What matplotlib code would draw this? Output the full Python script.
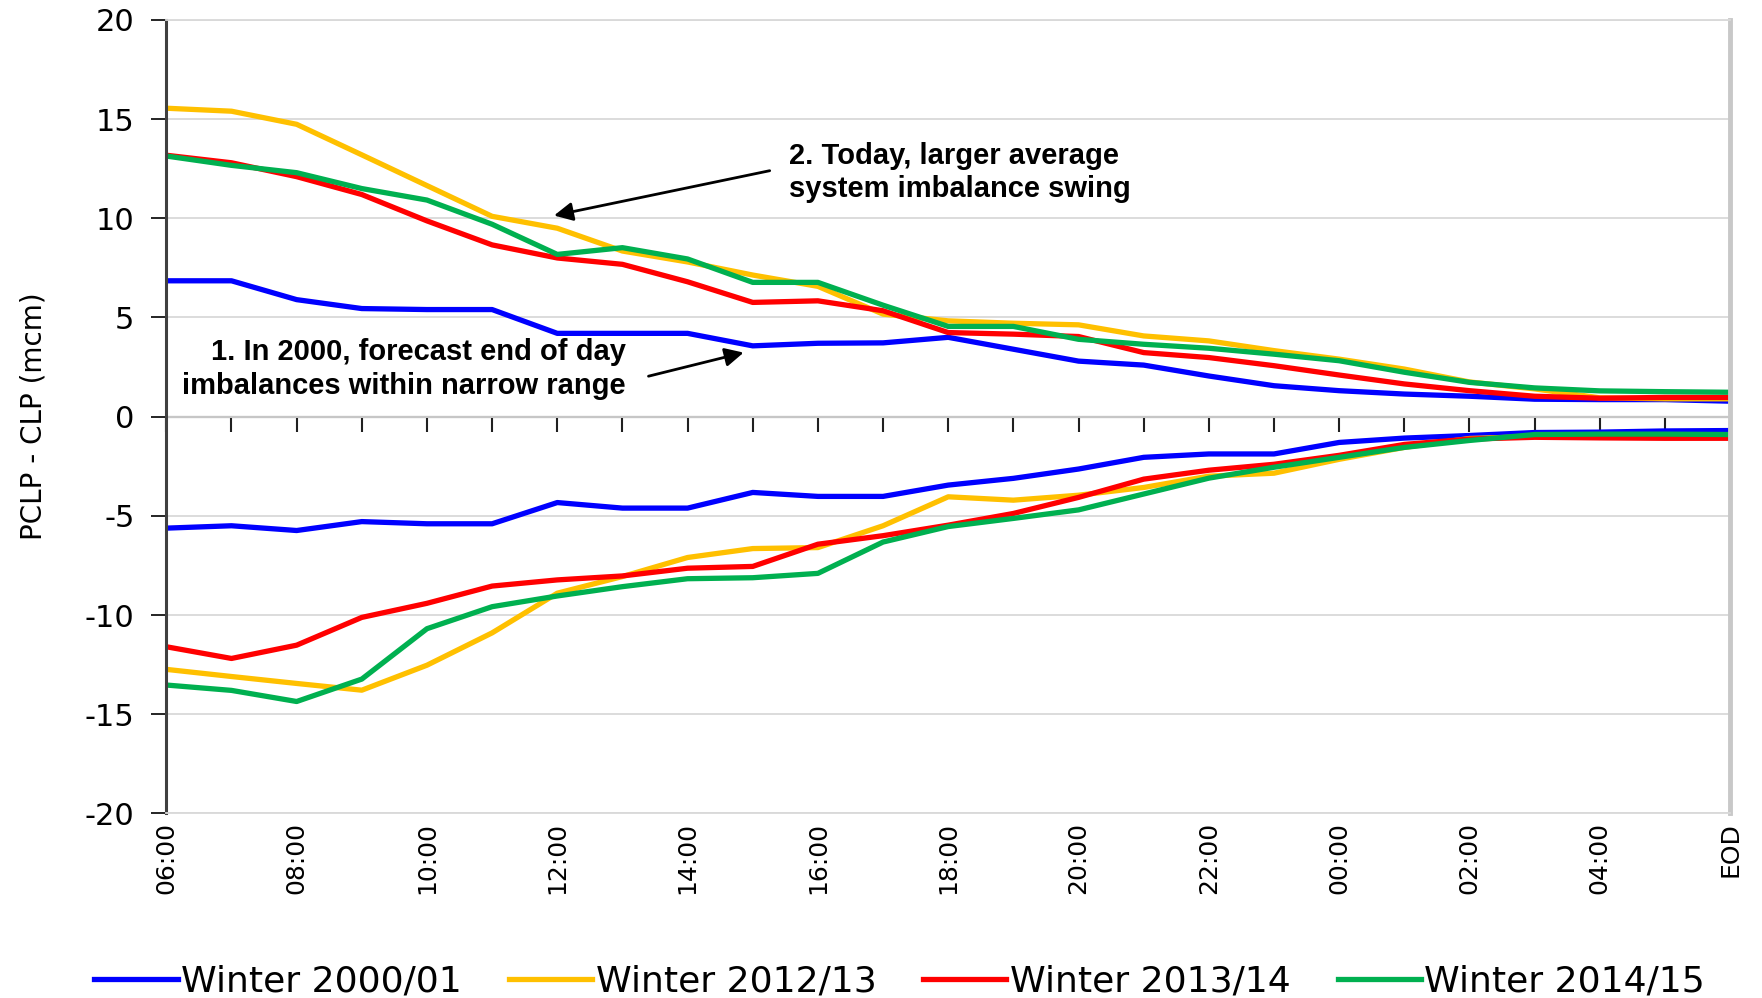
import matplotlib
matplotlib.use("Agg")
import matplotlib.pyplot as plt

plt.rcParams["axes.unicode_minus"] = False

# hourly points from 06:00 to end of day
hours = ["06:00", "07:00", "08:00", "09:00", "10:00", "11:00", "12:00", "13:00",
         "14:00", "15:00", "16:00", "17:00", "18:00", "19:00", "20:00", "21:00",
         "22:00", "23:00", "00:00", "01:00", "02:00", "03:00", "04:00", "05:00", "EOD"]

series_names = ["Winter 2000/01", "Winter 2012/13", "Winter 2013/14", "Winter 2014/15"]
series_colors = ["#0000FF", "#FFC000", "#FF0000", "#00B050"]

# upper band (positive imbalance)
blue_up = [6.85, 6.85, 5.9, 5.45, 5.4, 5.4, 4.2, 4.2, 4.2, 3.57, 3.7, 3.72, 4.0,
           3.4, 2.8, 2.6, 2.05, 1.56, 1.31, 1.14, 1.03, 0.88, 0.86, 0.86, 0.78]
yellow_up = [15.55, 15.4, 14.74, 13.2, 11.65, 10.1, 9.5, 8.35, 7.8, 7.14, 6.57, 5.17,
             4.83, 4.71, 4.63, 4.07, 3.82, 3.33, 2.9, 2.4, 1.75, 1.4, 0.95, 0.9, 0.9]
red_up = [13.18, 12.8, 12.1, 11.2, 9.87, 8.66, 8.0, 7.68, 6.8, 5.76, 5.84, 5.34, 4.24,
          4.16, 4.04, 3.23, 2.98, 2.57, 2.1, 1.65, 1.31, 1.03, 0.93, 0.97, 0.97]
green_up = [13.14, 12.67, 12.3, 11.5, 10.92, 9.7, 8.18, 8.52, 7.95, 6.77, 6.77, 5.62,
            4.55, 4.55, 3.9, 3.65, 3.45, 3.15, 2.82, 2.24, 1.73, 1.45, 1.3, 1.26, 1.23]

# lower band (negative imbalance)
blue_lo = [-5.62, -5.5, -5.74, -5.29, -5.4, -5.4, -4.33, -4.61, -4.61, -3.82, -4.02,
           -4.02, -3.45, -3.11, -2.64, -2.05, -1.88, -1.88, -1.3, -1.08, -0.95, -0.8,
           -0.78, -0.72, -0.7]
yellow_lo = [-12.74, -13.1, -13.45, -13.79, -12.53, -10.9, -8.9, -8.06, -7.1, -6.65,
             -6.6, -5.5, -4.04, -4.21, -3.96, -3.57, -3.0, -2.85, -2.15, -1.55, -1.1,
             -1.0, -0.98, -0.96, -0.95]
red_lo = [-11.6, -12.19, -11.52, -10.12, -9.41, -8.54, -8.23, -8.03, -7.64, -7.55,
          -6.43, -6.0, -5.47, -4.88, -4.07, -3.15, -2.7, -2.4, -1.95, -1.4, -1.13,
          -1.04, -1.07, -1.09, -1.09]
green_lo = [-13.53, -13.8, -14.36, -13.23, -10.69, -9.58, -9.04, -8.57, -8.17, -8.12,
            -7.9, -6.32, -5.54, -5.13, -4.7, -3.9, -3.1, -2.55, -2.05, -1.55, -1.2,
            -0.9, -0.88, -0.88, -0.9]

upper = [blue_up, yellow_up, red_up, green_up]
lower = [blue_lo, yellow_lo, red_lo, green_lo]

fig = plt.figure(figsize=(17.62, 9.98), dpi=100)
ax = fig.add_axes([0.0944, 0.185, 0.8875, 0.795])

x = list(range(len(hours)))
for up, lo, name, col in zip(upper, lower, series_names, series_colors):
    ax.plot(x, up, color=col, lw=3.8, label=name)
    ax.plot(x, lo, color=col, lw=3.8)

ax.set_xlim(0, len(hours) - 1)
ax.set_ylim(-20, 20)
ax.set_yticks(range(-20, 21, 5))
ax.yaxis.grid(True, color="#d9d9d9", lw=1.3)
ax.set_axisbelow(True)

ax.set_xticks(x[::2])
ax.set_xticklabels(hours[::2], rotation=90, fontsize=18)
ax.tick_params(axis="x", length=0, pad=6)
ax.tick_params(axis="y", direction="out", length=11, width=1.2, labelsize=22, pad=12)

for s in ["top", "bottom"]:
    ax.spines[s].set_color("#d9d9d9")
    ax.spines[s].set_linewidth(1.3)
ax.spines["right"].set_color("#c8c8c8")
ax.spines["right"].set_linewidth(3.5)
ax.spines["left"].set_color("#404040")
ax.spines["left"].set_linewidth(2.2)

# zero line with hourly tick marks pointing down
zero_ax = ax.secondary_xaxis(0.5)
zero_ax.set_xticks(x)
zero_ax.set_xticklabels([])
zero_ax.tick_params(direction="in", length=11, width=1.5, color="#202020")
for s in zero_ax.spines.values():
    s.set_color("#202020")
    s.set_linewidth(1.5)

ax.set_ylabel("PCLP - CLP (mcm)", fontsize=20)
ax.yaxis.set_label_coords(-0.076, 0.5)

bold = dict(fontsize=21, fontweight="bold", family=["Liberation Sans", "DejaVu Sans"])
ax.text(9.55, 12.3, "2. Today, larger average\nsystem imbalance swing",
        ha="left", va="center", linespacing=1.25, **bold)
ax.annotate("", xy=(5.95, 10.14), xytext=(9.26, 12.4),
            arrowprops=dict(arrowstyle="-|>", color="black", lw=2,
                            mutation_scale=28, shrinkA=0, shrinkB=0))
ax.text(7.05, 2.41, "1. In 2000, forecast end of day\nimbalances within narrow range",
        ha="right", va="center", linespacing=1.25, **bold)
ax.annotate("", xy=(8.86, 3.23), xytext=(7.4, 2.04),
            arrowprops=dict(arrowstyle="-|>", color="black", lw=2,
                            mutation_scale=28, shrinkA=0, shrinkB=0))

ax.legend(loc="upper center", bbox_to_anchor=(0.469, -0.172), ncol=4, frameon=False,
          fontsize=26, handlelength=2.3, handletextpad=0.1, columnspacing=1.3,
          borderaxespad=0)

fig.savefig("out.png", dpi=100)
